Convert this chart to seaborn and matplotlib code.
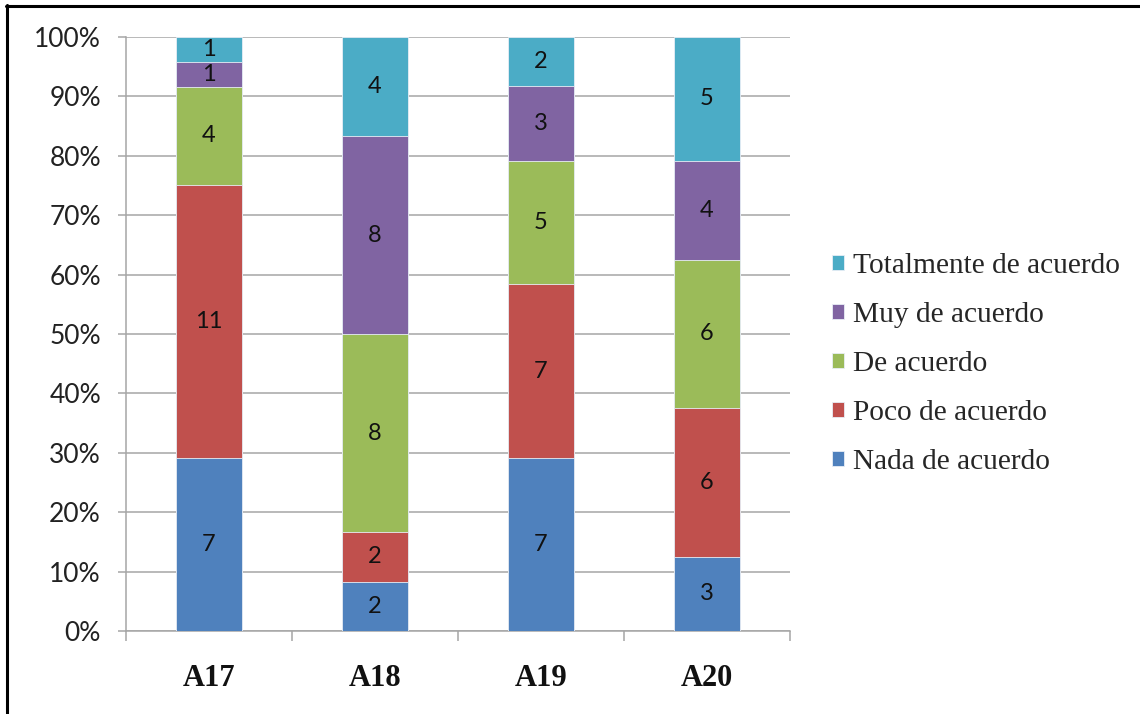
import matplotlib
matplotlib.use("Agg")
import matplotlib.pyplot as plt
from matplotlib.lines import Line2D
from matplotlib.patches import Patch
from matplotlib.ticker import FixedLocator, PercentFormatter
import numpy as np
import pandas as pd
import seaborn as sns

# Survey items and answer counts per agreement level
items = ["A17", "A18", "A19", "A20"]
levels = ["Nada de acuerdo", "Poco de acuerdo", "De acuerdo",
          "Muy de acuerdo", "Totalmente de acuerdo"]
nada = [7, 2, 7, 3]
poco = [11, 2, 7, 6]
de_acuerdo = [4, 8, 5, 6]
muy = [1, 8, 3, 4]
totalmente = [1, 4, 2, 5]

colors = ["#4F81BD", "#C0504D", "#9BBB59", "#8064A2", "#4BACC6"]

counts = np.array([nada, poco, de_acuerdo, muy, totalmente], dtype=float)
pct = counts / counts.sum(axis=0) * 100
cum = pct.cumsum(axis=0)

sns.set_style("white")
plt.rcParams["font.family"] = ["Lato", "DejaVu Sans"]

fig = plt.figure(figsize=(11.4, 7.14), dpi=100)
ax = fig.add_axes([126 / 1140, 1 - 631 / 714, (790 - 126) / 1140, (631 - 37) / 714])

# Stacked bars: draw cumulative totals from the top layer down
for i in range(len(levels) - 1, -1, -1):
    df = pd.DataFrame({"item": items, "value": cum[i]})
    sns.barplot(data=df, x="item", y="value", color=colors[i], width=0.4,
                saturation=1, edgecolor="#e8eef6", linewidth=0.6, ax=ax, zorder=3)

# Count labels centred in each segment
for i in range(len(levels)):
    for j in range(len(items)):
        ax.text(j, cum[i, j] - pct[i, j] / 2, f"{int(counts[i, j])}",
                ha="center", va="center", fontsize=17, color="#111111", zorder=5)

ax.set_xlim(-0.5, len(items) - 0.5)
ax.set_ylim(0, 100)
ax.set_xlabel("")
ax.set_ylabel("")

grid_c = "#a6a6a6"
ax.yaxis.set_major_locator(FixedLocator(np.arange(0, 101, 10)))
ax.yaxis.set_major_formatter(PercentFormatter(decimals=0))
ax.grid(axis="y", color=grid_c, linewidth=1.1, zorder=0)
ax.set_axisbelow(True)

for s in ["top", "right"]:
    ax.spines[s].set_visible(False)
for s in ["left", "bottom"]:
    ax.spines[s].set_color(grid_c)
    ax.spines[s].set_linewidth(1.1)

ax.tick_params(axis="y", which="major", length=6, width=1.1, color=grid_c,
               labelsize=19, labelcolor="#222222", pad=12, left=True)
ax.set_xticks(range(len(items)))
ax.set_xticklabels(items, fontfamily="Liberation Serif", fontweight="bold",
                   fontsize=22, color="#111111")
ax.tick_params(axis="x", which="major", length=0, pad=24)
ax.set_xticks(np.arange(-0.5, len(items), 1), minor=True)
ax.tick_params(axis="x", which="minor", length=7, width=1.1, color=grid_c,
               bottom=True)

handles = [Patch(facecolor=colors[i], edgecolor="#e8eef6", linewidth=0.6)
           for i in range(len(levels) - 1, -1, -1)]
labels = levels[::-1]
fig.legend(handles, labels, loc="center left",
           bbox_to_anchor=(832 / 1140, 1 - 364 / 714),
           frameon=False, prop={"family": "Liberation Serif", "size": 21.2},
           handlelength=0.42, handleheight=0.42, handletextpad=0.28,
           labelspacing=0.78, borderpad=0, borderaxespad=0)

# Frame lines along the top and left edges
fig.add_artist(Line2D([6 / 1140, 1], [1 - 5.5 / 714, 1 - 5.5 / 714],
                      transform=fig.transFigure, color="black", linewidth=2.2))
fig.add_artist(Line2D([6.5 / 1140, 6.5 / 1140], [0, 1 - 5 / 714],
                      transform=fig.transFigure, color="black", linewidth=2.2))

fig.savefig("out.png", dpi=100)
